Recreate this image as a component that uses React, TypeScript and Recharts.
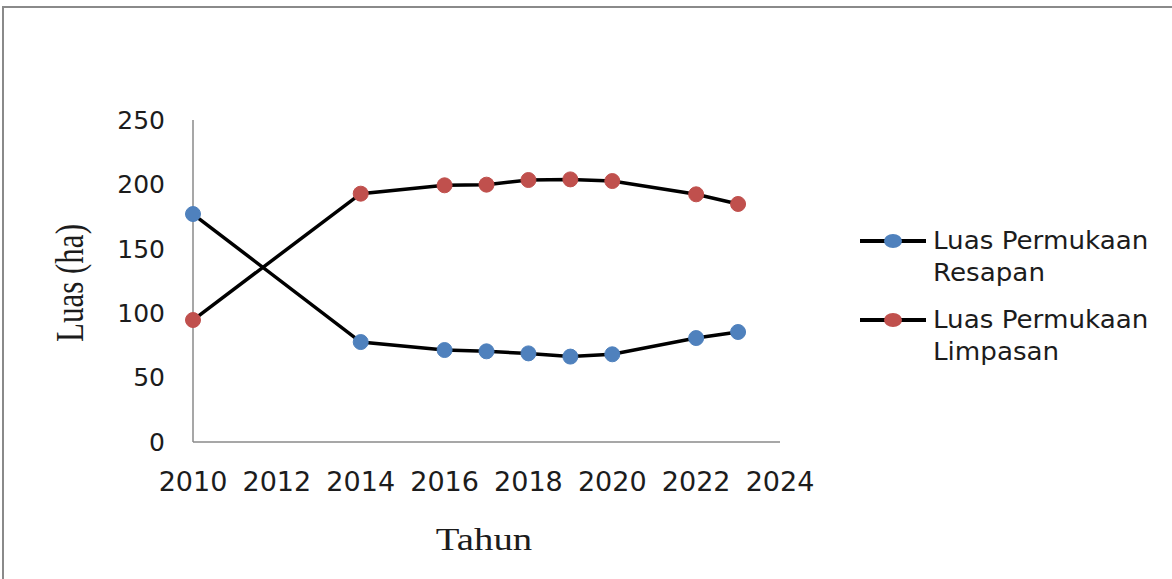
import React from "react";
import { LineChart, Line, XAxis, YAxis } from "recharts";

// values
const years = [2010, 2014, 2016, 2017, 2018, 2019, 2020, 2022, 2023];
const resapan = [177, 77.6, 71.4, 70.4, 68.8, 66.3, 68.1, 80.7, 85.4];
const limpasan = [94.7, 192.8, 199.3, 199.8, 203.4, 203.9, 202.6, 192.3, 184.8];
const xTicks = [2010, 2012, 2014, 2016, 2018, 2020, 2022, 2024];
const yTicks = [0, 50, 100, 150, 200, 250];

const BLUE = "#4F81BD";
const RED = "#C0504D";
const TEXT = "#1c1c1c";
const SANS = "'DejaVu Sans', sans-serif";
const SERIF = "'Liberation Serif', 'Times New Roman', serif";

const data = years.map((year, i) => ({
  year,
  resapan: resapan[i],
  limpasan: limpasan[i],
}));

const legendItems = [
  { color: BLUE, lines: ["Luas Permukaan", "Resapan"], top: 225 },
  { color: RED, lines: ["Luas Permukaan", "Limpasan"], top: 304 },
];

const LegendIcon = ({ color }: { color: string }) => (
  <svg width={66} height={20} style={{ position: "absolute", left: 0, top: 6 }}>
    <line x1={0} y1={10} x2={66} y2={10} stroke="#000" strokeWidth={4} />
    <ellipse cx={33} cy={10} rx={9} ry={7} fill={color} />
  </svg>
);

const App = () => {
  return (
    <div
      style={{
        position: "absolute",
        left: 0,
        top: 0,
        width: 1172,
        height: 579,
        overflow: "hidden",
        background: "#fff",
      }}
    >
      {/* frame round the chart, cut off at right and bottom */}
      <div
        style={{
          position: "absolute",
          left: 2,
          top: 6,
          width: 1200,
          height: 600,
          border: "2px solid #8a8a8a",
        }}
      />
      <LineChart
        width={1172}
        height={579}
        data={data}
        margin={{ top: 120, right: 392, bottom: 77, left: 0 }}
        style={{ position: "absolute", left: 0, top: 0 }}
      >
        <XAxis
          dataKey="year"
          type="number"
          domain={[2010, 2024]}
          ticks={xTicks}
          height={60}
          stroke="#8a8a8a"
          strokeWidth={1.5}
          tickLine={false}
          tickMargin={24}
          tick={{ fill: TEXT, fontSize: 27, fontFamily: SANS }}
        />
        <YAxis
          type="number"
          domain={[0, 250]}
          ticks={yTicks}
          width={193}
          stroke="#8a8a8a"
          strokeWidth={1.5}
          tickLine={false}
          tickMargin={22}
          tick={{ fill: TEXT, fontSize: 25, fontFamily: SANS }}
        />
        <Line
          dataKey="resapan"
          stroke="#000"
          strokeWidth={3.5}
          dot={{ r: 7.5, fill: BLUE, stroke: BLUE, strokeWidth: 1 }}
          isAnimationActive={false}
        />
        <Line
          dataKey="limpasan"
          stroke="#000"
          strokeWidth={3.5}
          dot={{ r: 7.5, fill: RED, stroke: RED, strokeWidth: 1 }}
          isAnimationActive={false}
        />
      </LineChart>

      {/* axis titles */}
      <div
        style={{
          position: "absolute",
          left: 70,
          top: 283,
          transform: "translate(-50%, -50%) scale(1.3, 1) rotate(-90deg)",
          fontFamily: SERIF,
          fontSize: 31,
          color: TEXT,
          whiteSpace: "nowrap",
        }}
      >
        Luas (ha)
      </div>
      <div
        style={{
          position: "absolute",
          left: 484,
          top: 540,
          transform: "translate(-50%, -50%) scale(1.25, 1)",
          fontFamily: SERIF,
          fontSize: 31,
          color: TEXT,
          whiteSpace: "nowrap",
        }}
      >
        Tahun
      </div>

      {/* legend */}
      {legendItems.map((item) => (
        <div
          key={item.lines[1]}
          style={{ position: "absolute", left: 860, top: item.top }}
        >
          <LegendIcon color={item.color} />
          <div
            style={{
              marginLeft: 73,
              fontFamily: SANS,
              fontSize: 24,
              lineHeight: "32px",
              color: TEXT,
              whiteSpace: "nowrap",
              transform: "scale(1.09, 1)",
              transformOrigin: "left center",
            }}
          >
            {item.lines[0]}
            <br />
            {item.lines[1]}
          </div>
        </div>
      ))}
    </div>
  );
};

export default App;
